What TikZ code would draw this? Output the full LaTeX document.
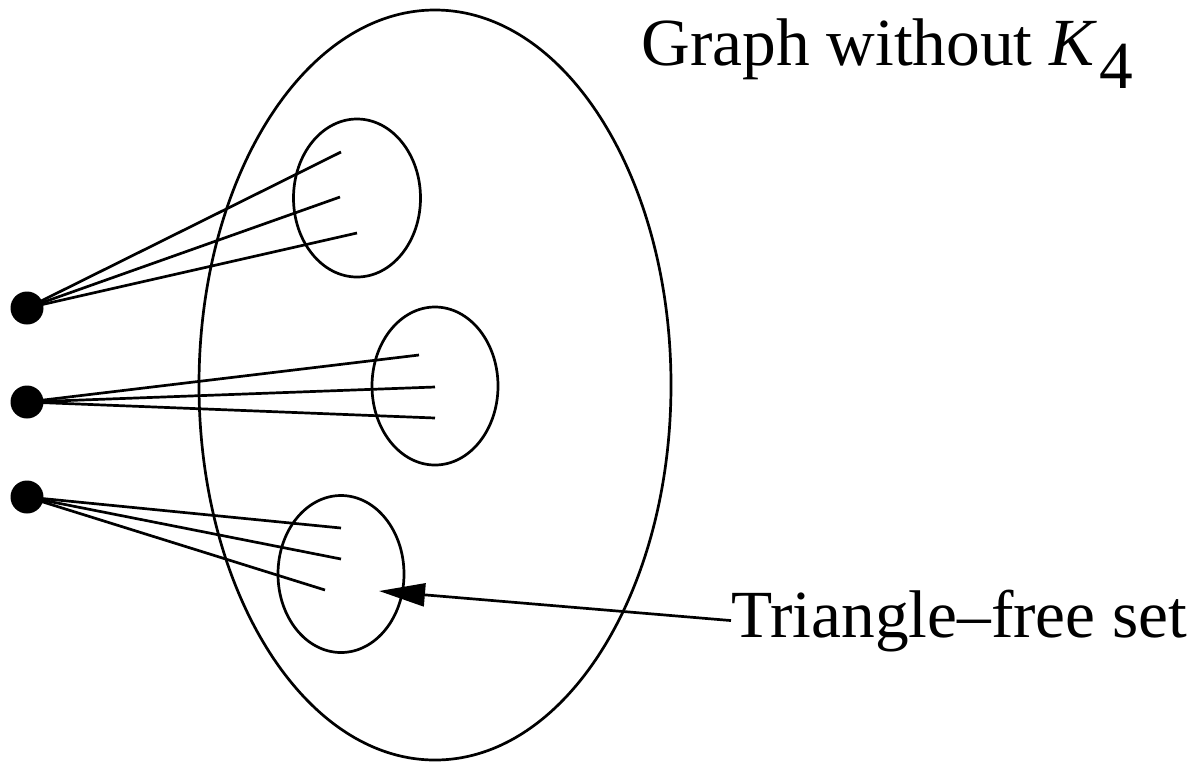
\documentclass[tikz,border=0pt]{standalone}
\usepackage{fontspec}
\setmainfont{Liberation Serif}
\usetikzlibrary{shapes.geometric,arrows.meta}
\begin{document}
\begin{tikzpicture}[x=0.5pt,y=-0.5pt,
  outline/.style={draw,line width=1.35pt,ellipse,inner sep=0pt},
  vdot/.style={circle,fill=black,inner sep=0pt,minimum size=16.5pt},
  edge/.style={line width=1.35pt},
  lbl/.style={inner sep=0pt,anchor=base west,font=\fontsize{33.7pt}{40pt}\selectfont}]
\useasboundingbox (0,0) rectangle (1198,762);
% big ellipse
\node[outline,minimum width=236pt,minimum height=375pt] (G) at (435,385) {};
% small ellipses
\node[outline,minimum width=63.5pt,minimum height=79pt] (s1) at (357,198) {};
\node[outline,minimum width=63pt,minimum height=79pt] (s2) at (435,386) {};
\node[outline,minimum width=63pt,minimum height=78.5pt] (s3) at (341,574) {};
% dots
\node[vdot] (d1) at (27,308) {};
\node[vdot] (d2) at (27,402) {};
\node[vdot] (d3) at (27,497) {};
% end points
\coordinate (a1) at (341,152);
\coordinate (a2) at (340,197);
\coordinate (a3) at (357,233);
\coordinate (b1) at (419,355);
\coordinate (b2) at (435,387);
\coordinate (b3) at (435,418);
\coordinate (c1) at (341,528);
\coordinate (c2) at (341,559);
\coordinate (c3) at (325,590);
\foreach \p in {a1,a2,a3} \draw[edge] (d1.center) -- (\p);
\foreach \p in {b1,b2,b3} \draw[edge] (d2.center) -- (\p);
\foreach \p in {c1,c2,c3} \draw[edge] (d3.center) -- (\p);
% labels
\node[lbl] (title) at (641,65) {Graph without \textit{K}\hspace{1pt}\raisebox{-11.5pt}{4}};
\node[lbl] (tf) at (731,637) {Triangle--free set};
\coordinate (tip) at (379,591);
\draw[edge,-{Triangle[length=23pt,width=11.5pt]}] (tf.west) -- (tip);
\end{tikzpicture}
\end{document}
